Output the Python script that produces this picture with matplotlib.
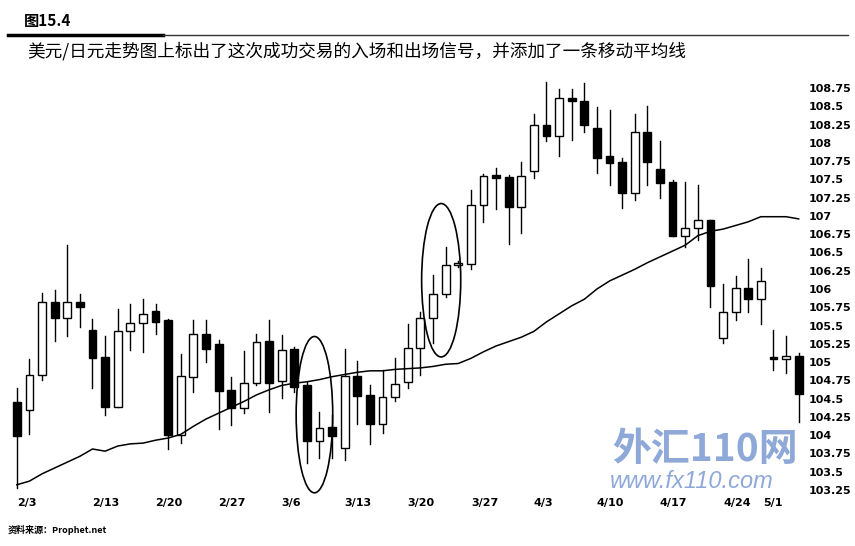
import numpy as np
import matplotlib
matplotlib.use('Agg')
import matplotlib.pyplot as plt
from matplotlib.patches import Ellipse, Rectangle

plt.rcParams['font.family'] = ['Noto Sans CJK SC', 'DejaVu Sans']

# 美元/日元 日线数据
opens = [104.46, 104.34, 104.82, 105.82, 105.61, 105.82, 105.44, 105.07, 104.39, 105.42,
         105.54, 105.70, 105.57, 104.00, 104.80, 105.38, 105.25, 104.62, 104.37, 104.72,
         105.29, 104.74, 105.18, 104.68, 103.92, 104.11, 103.83, 104.81, 104.55, 104.15,
         104.52, 104.73, 105.19, 105.60, 105.93, 106.33, 106.34, 107.15, 107.56, 107.54,
         107.12, 107.61, 108.25, 108.10, 108.62, 108.58, 108.21, 107.82, 107.74, 107.32,
         108.15, 107.64, 107.46, 106.72, 106.83, 106.95, 105.33, 105.69, 106.02, 105.86,
         105.07, 105.04, 105.08]
highs = [104.64, 105.04, 105.95, 105.98, 106.60, 105.93, 105.59, 105.36, 105.72, 105.79,
         105.86, 105.79, 105.59, 105.11, 105.58, 105.58, 105.30, 104.79, 105.15, 105.38,
         105.58, 105.37, 105.20, 104.73, 104.32, 104.27, 105.18, 105.01, 104.69, 104.89,
         105.05, 105.52, 105.69, 106.19, 106.58, 106.38, 107.35, 107.58, 107.65, 107.56,
         107.74, 108.40, 108.84, 108.74, 108.74, 108.82, 108.49, 108.45, 107.80, 108.39,
         108.51, 108.03, 107.49, 107.47, 107.42, 106.95, 106.07, 106.18, 106.41, 106.29,
         105.44, 105.36, 105.13]
lows = [103.27, 104.02, 104.75, 105.29, 105.35, 105.48, 104.64, 104.27, 104.39, 105.16,
        105.14, 105.38, 103.81, 103.89, 104.59, 105.00, 104.08, 104.14, 104.30, 104.69,
        104.31, 104.51, 104.59, 103.62, 103.68, 103.68, 103.66, 104.15, 103.88, 104.03,
        104.47, 104.64, 104.82, 105.26, 105.89, 106.30, 106.27, 106.92, 107.09, 106.62,
        106.77, 107.52, 108.03, 107.82, 108.04, 108.15, 107.59, 107.42, 107.11, 107.22,
        107.43, 107.24, 106.72, 106.57, 106.67, 105.75, 105.26, 105.58, 105.68, 105.52,
        104.89, 104.85, 104.18]
closes = [103.99, 104.82, 105.82, 105.61, 105.82, 105.76, 105.06, 104.39, 105.42, 105.54,
          105.66, 105.55, 104.00, 104.81, 105.38, 105.18, 104.61, 104.37, 104.72, 105.28,
          104.72, 105.17, 104.66, 103.92, 104.10, 103.99, 104.81, 104.54, 104.15, 104.52,
          104.70, 105.19, 105.60, 105.93, 106.33, 106.36, 107.15, 107.55, 107.52, 107.12,
          107.55, 108.25, 108.10, 108.62, 108.57, 108.24, 107.80, 107.73, 107.32, 108.15,
          107.74, 107.45, 106.72, 106.83, 106.95, 106.04, 105.69, 106.02, 105.86, 106.11,
          105.04, 105.08, 104.56]
# 移动平均线
ma = [103.32, 103.37, 103.47, 103.55, 103.63, 103.71, 103.81, 103.78, 103.85, 103.88,
      103.89, 103.93, 103.96, 104.01, 104.12, 104.22, 104.30, 104.38, 104.46, 104.55,
      104.62, 104.68, 104.71, 104.73, 104.76, 104.80, 104.83, 104.86, 104.88, 104.88,
      104.90, 104.91, 104.92, 104.94, 104.97, 104.98, 105.05, 105.14, 105.22, 105.28,
      105.34, 105.42, 105.55, 105.66, 105.77, 105.86, 106.00, 106.11, 106.19, 106.27,
      106.36, 106.44, 106.52, 106.60, 106.73, 106.79, 106.82, 106.87, 106.92, 106.99,
      106.99, 106.99, 106.96]

date_labels = ['2/3', '2/13', '2/20', '2/27', '3/6', '3/13', '3/20', '3/27',
               '4/3', '4/10', '4/17', '4/24', '5/1']
date_pos = [0, 6, 11, 16, 21, 26, 31, 36, 41, 46, 51, 56, 59.2]
y_ticks = np.arange(103.25, 108.76, 0.25)

# 入场/出场信号圈 (中心位置, 宽, 高)
circles = [(23.6, 104.28, 2.9, 2.14), (33.65, 106.12, 3.1, 2.10)]

fig = plt.figure(figsize=(8.55, 5.46), dpi=100)
ax = fig.add_axes([8 / 855, 1 - 495 / 546, 797 / 855, 420 / 546])

n = len(opens)
x = np.arange(n)
w = 0.62
for i in range(n):
    o, h, l, c = opens[i], highs[i], lows[i], closes[i]
    ax.plot([i, i], [l, h], color='black', lw=1.0, zorder=2)
    up = c >= o
    bottom = min(o, c)
    height = max(abs(c - o), 0.03)
    ax.add_patch(Rectangle((i - w / 2, bottom), w, height,
                           facecolor='white' if up else 'black',
                           edgecolor='black', lw=1.0, zorder=3))

ax.plot(x, ma, color='black', lw=1.1, zorder=4)

for cx, cy, cw, ch in circles:
    ax.add_patch(Ellipse((cx, cy), cw, ch, fill=False, edgecolor='black', lw=1.2, zorder=5))

ax.set_xlim(-0.7, 62.5)
ax.set_ylim(103.18, 108.93)
for s in ax.spines.values():
    s.set_visible(False)

ax.yaxis.tick_right()
ax.set_yticks(y_ticks)
ax.set_yticklabels(['%g' % v for v in y_ticks], fontsize=8, fontweight='bold',
                   family='DejaVu Sans')
ax.set_xticks(date_pos)
ax.set_xticklabels(date_labels, fontsize=8, fontweight='bold', family='DejaVu Sans',
                   ha='left')
ax.tick_params(axis='both', length=0)
ax.tick_params(axis='y', pad=3)
ax.tick_params(axis='x', pad=2)

# 水印
fig.text(612 / 855, 1 - 449 / 546, '外汇110网', fontsize=28, fontweight='bold',
         color='#8ea8d8', va='center', ha='left')
fig.text(610 / 855, 1 - 482 / 546, 'www.fx110.com', fontsize=17, style='italic',
         color='#8ea8d8', va='center', ha='left', family='Liberation Sans')

# 标题
fig.text(24 / 855, 1 - 21 / 546, '图15.4', fontsize=11, fontweight='bold', va='center')
fig.add_artist(plt.Line2D([8 / 855, 163 / 855], [1 - 34.5 / 546] * 2, color='black', lw=2.5))
fig.add_artist(plt.Line2D([163 / 855, 848 / 855], [1 - 35 / 546] * 2, color='#333333', lw=1.0))
fig.text(27 / 855, 1 - 51 / 546, '美元/日元走势图上标出了这次成功交易的入场和出场信号，并添加了一条移动平均线',
         fontsize=12.7, va='center')
fig.text(8 / 855, 1 - 530 / 546, '资料来源：Prophet.net', fontsize=6.5, fontweight='bold',
         va='center')

fig.savefig('out.png', dpi=100)
